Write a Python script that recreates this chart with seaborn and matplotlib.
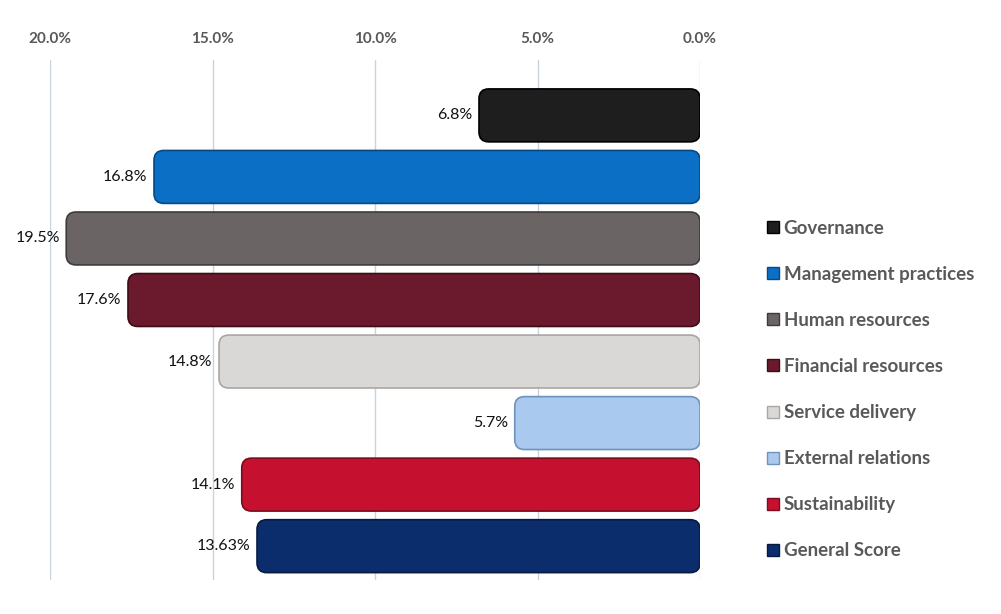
import matplotlib
matplotlib.use("Agg")
import matplotlib.pyplot as plt
from matplotlib.lines import Line2D
from matplotlib.patches import FancyBboxPatch
import seaborn as sns
import pandas as pd

# Scores by dimension (percent)
categories = ["Governance", "Management practices", "Human resources",
              "Financial resources", "Service delivery", "External relations",
              "Sustainability", "General Score"]
values = [6.8, 16.8, 19.5, 17.6, 14.8, 5.7, 14.1, 13.63]
value_labels = ["6.8%", "16.8%", "19.5%", "17.6%", "14.8%", "5.7%", "14.1%", "13.63%"]
colors = ["#1e1e1e", "#0b6fc6", "#6a6464", "#6b1a2d", "#dad8d6",
          "#a9c9ee", "#c5102f", "#0c2d6b"]
edge_colors = ["#000000", "#064a85", "#3f3b3b", "#3e0d18", "#a9a6a3",
               "#6f93bd", "#7f0a1e", "#061a42"]
tick_values = [20, 15, 10, 5, 0]
tick_labels = ["20.0%", "15.0%", "10.0%", "5.0%", "0.0%"]

df = pd.DataFrame({"category": categories, "value": values})

sns.set_theme(style="white")
plt.rcParams["font.family"] = ["Lato", "DejaVu Sans"]

fig = plt.figure(figsize=(10.01, 6.14), dpi=100)
ax = fig.add_axes([50 / 1001, 34 / 614, 650 / 1001, 520 / 614])

sns.barplot(data=df, y="category", x="value", hue="category",
            palette=colors, orient="h", width=0.86, legend=False, ax=ax,
            zorder=3)

# Replace plain rectangles with rounded bars of the same geometry
ax.set_xlim(20.0, 0.0)
ax.set_ylim(len(categories) - 0.45, -0.9)
fig.canvas.draw()
px_per_x = abs(ax.transData.transform((1, 0))[0] - ax.transData.transform((0, 0))[0])
px_per_y = abs(ax.transData.transform((0, 1))[1] - ax.transData.transform((0, 0))[1])
aspect = px_per_x / px_per_y
for patch, fc, ec in zip(list(ax.patches), colors, edge_colors):
    bx, by = patch.get_x(), patch.get_y()
    bw, bh = patch.get_width(), patch.get_height()
    patch.remove()
    rounded = FancyBboxPatch((bx, by), bw, bh,
                             boxstyle="round,pad=0,rounding_size=0.3",
                             mutation_aspect=aspect,
                             facecolor=fc, edgecolor=ec, linewidth=1.2,
                             zorder=3)
    ax.add_patch(rounded)

# Value labels to the left of each bar
for i, (v, lab) in enumerate(zip(values, value_labels)):
    ax.text(v + 0.2, i, lab, ha="right", va="center", fontsize=11.5,
            color="#111111", zorder=4)

ax.set_xticks(tick_values)
ax.set_xticklabels(tick_labels)
ax.xaxis.tick_top()
ax.tick_params(axis="x", length=0, pad=10, labelsize=11, labelcolor="#595959")
for t in ax.get_xticklabels():
    t.set_fontweight("bold")
ax.set_yticks([])
ax.set_xlabel("")
ax.set_ylabel("")
ax.grid(axis="x", color="#c8d3e0", linewidth=1.0, zorder=0)
for s in ax.spines.values():
    s.set_visible(False)

handles = [Line2D([0], [0], marker="s", linestyle="", markersize=8,
                  markerfacecolor=c, markeredgecolor=e, label=cat)
           for cat, c, e in zip(categories, colors, edge_colors)]
leg = fig.legend(handles=handles, loc="upper left",
                 bbox_to_anchor=(748 / 1001, 1 - 203 / 614), frameon=False,
                 handletextpad=0.1, labelspacing=1.55, handlelength=0.9,
                 prop={"size": 13.5, "weight": "bold"})
for t in leg.get_texts():
    t.set_color("#595959")

fig.savefig("out.png", dpi=100)
